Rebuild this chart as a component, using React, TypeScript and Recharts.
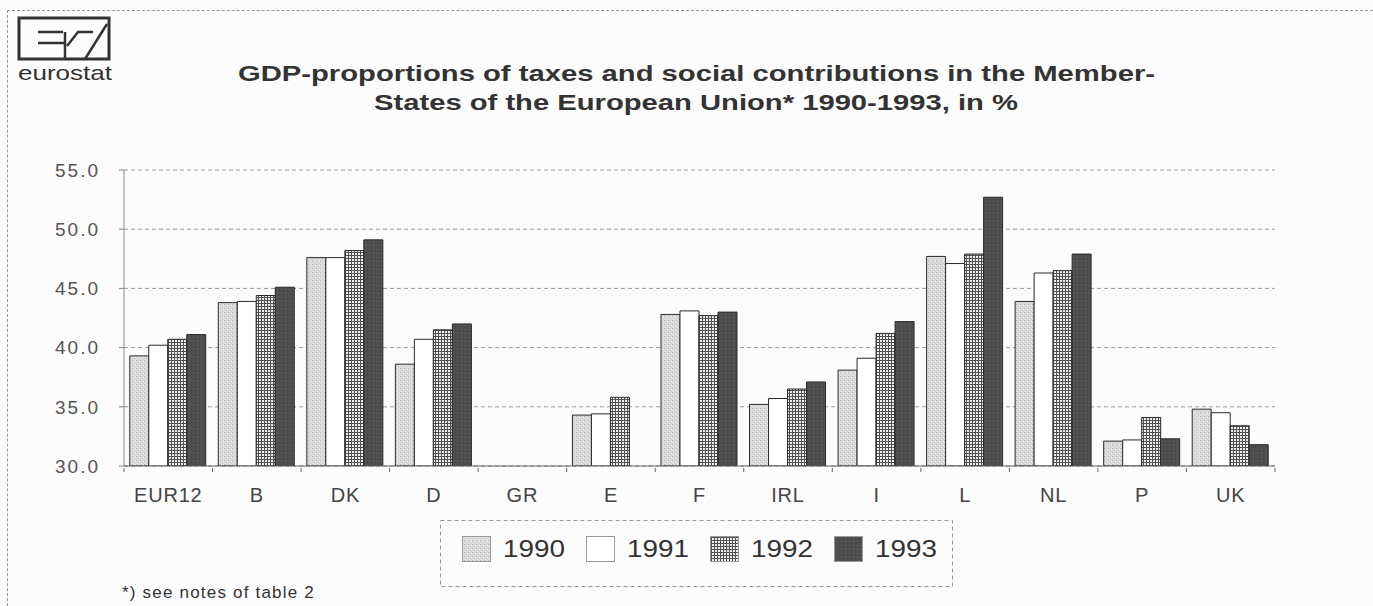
import React from "react";
import { Bar, BarChart, CartesianGrid, XAxis, YAxis } from "recharts";

const categories = ["EUR12", "B", "DK", "D", "GR", "E", "F", "IRL", "I", "L", "NL", "P", "UK"];
const years = ["1990", "1991", "1992", "1993"];
const v1990 = [39.3, 43.8, 47.6, 38.6, null, 34.3, 42.8, 35.2, 38.1, 47.7, 43.9, 32.1, 34.8];
const v1991 = [40.2, 43.9, 47.6, 40.7, null, 34.4, 43.1, 35.7, 39.1, 47.1, 46.3, 32.2, 34.5];
const v1992 = [40.7, 44.4, 48.2, 41.5, null, 35.8, 42.7, 36.5, 41.2, 47.9, 46.5, 34.1, 33.4];
const v1993 = [41.1, 45.1, 49.1, 42.0, null, null, 43.0, 37.1, 42.2, 52.7, 47.9, 32.3, 31.8];
const yTicks = [30, 35, 40, 45, 50, 55];

const data = categories.map((c, i) => ({
  name: c,
  "1990": v1990[i],
  "1991": v1991[i],
  "1992": v1992[i],
  "1993": v1993[i],
}));

const fills: Record<string, string> = {
  "1990": "url(#p1990)",
  "1991": "#ffffff",
  "1992": "url(#p1992)",
  "1993": "url(#p1993)",
};

const FONT = "'Liberation Sans', Arial, sans-serif";
const PLOT_LEFT = 124;
const PLOT_RIGHT = 1275;
const BAND = (PLOT_RIGHT - PLOT_LEFT) / categories.length;

function XTick(props: any) {
  const { x, y, payload, index } = props;
  return (
    <g>
      <line x1={x - BAND / 2} x2={x - BAND / 2} y1={y - 6} y2={y - 2} stroke="#666" />
      {index === categories.length - 1 && (
        <line x1={x + BAND / 2} x2={x + BAND / 2} y1={y - 6} y2={y - 2} stroke="#666" />
      )}
      <text x={x} y={y + 28} textAnchor="middle" fontSize={20} fill="#444" fontFamily={FONT} letterSpacing={0.8}>
        {payload.value}
      </text>
    </g>
  );
}

// title, logo, legend and footnote drawn over the chart
function Overlay() {
  const lx = [462, 586, 710, 834];
  return (
    <svg width={1373} height={606} style={{ position: "absolute", left: 0, top: 0, pointerEvents: "none" }}>
      {/* logo */}
      <g stroke="#333" fill="none">
        <rect x={19} y={18} width={90} height={41} strokeWidth={3} />
        <line x1={38} y1={32} x2={63} y2={32} strokeWidth={2.5} />
        <line x1={38} y1={43} x2={66} y2={43} strokeWidth={2.5} />
        <line x1={65} y1={32} x2={65} y2={59} strokeWidth={2.5} />
        <polyline points="67,46 78,32 93,32" strokeWidth={2.5} />
        <line x1={85} y1={59} x2={107} y2={24} strokeWidth={2.5} />
      </g>
      <text x={18} y={80} fontSize={21} fill="#333" fontFamily={FONT} textLength={94} lengthAdjust="spacingAndGlyphs">
        eurostat
      </text>

      {/* title */}
      <text x={238} y={81} fontSize={22} fontWeight="bold" fill="#333" fontFamily={FONT} textLength={917} lengthAdjust="spacingAndGlyphs">
        GDP-proportions of taxes and social contributions in the Member-
      </text>
      <text x={374} y={110} fontSize={22} fontWeight="bold" fill="#333" fontFamily={FONT} textLength={644} lengthAdjust="spacingAndGlyphs">
        States of the European Union* 1990-1993, in %
      </text>

      {/* legend */}
      <rect x={440.5} y={520.5} width={512} height={66} fill="none" stroke="#999" strokeDasharray="4 3" />
      {years.map((y, i) => (
        <g key={y}>
          <rect x={lx[i] + 0.5} y={536.5} width={28} height={25} fill={fills[y]} stroke="#999" />
          <text x={lx[i] + 41} y={557} fontSize={24} fill="#333" fontFamily={FONT} textLength={62} lengthAdjust="spacingAndGlyphs">
            {y}
          </text>
        </g>
      ))}

      {/* footnote */}
      <text x={122} y={598} fontSize={17} fill="#333" fontFamily={FONT} letterSpacing={1.2}>
        *) see notes of table 2
      </text>
    </svg>
  );
}

export default function App() {
  return (
    <div
      style={{
        position: "absolute",
        left: 0,
        top: 0,
        width: 1373,
        height: 606,
        background: "#fcfcfc",
        fontFamily: FONT,
        overflow: "hidden",
      }}
    >
      <div
        style={{
          position: "absolute",
          left: 7,
          top: 10,
          width: 1380,
          height: 610,
          borderTop: "1px dashed #999",
          borderLeft: "1px dashed #999",
        }}
      />

      <div style={{ position: "absolute", left: 0, top: 0 }}>
        <BarChart
          width={1373}
          height={606}
          data={data}
          margin={{ top: 170, right: 1373 - PLOT_RIGHT, bottom: 100, left: PLOT_LEFT - 100 }}
          barCategoryGap="6.5%"
          barGap={0}
        >
          <defs>
            <pattern id="p1990" width={4} height={4} patternUnits="userSpaceOnUse">
              <rect width={4} height={4} fill="#dcdcdc" />
              <rect x={0} y={0} width={1} height={1} fill="#b5b5b5" />
              <rect x={2} y={2} width={1} height={1} fill="#c4c4c4" />
              <rect x={3} y={1} width={1} height={1} fill="#ececec" />
            </pattern>
            <pattern id="p1992" width={3} height={3} patternUnits="userSpaceOnUse">
              <rect width={3} height={3} fill="#eeeeee" />
              <rect x={0} y={0} width={3} height={1} fill="#505050" />
              <rect x={0} y={0} width={1} height={3} fill="#505050" />
            </pattern>
            <pattern id="p1993" width={4} height={4} patternUnits="userSpaceOnUse">
              <rect width={4} height={4} fill="#4e4e4e" />
              <rect x={1} y={1} width={1} height={1} fill="#666" />
              <rect x={3} y={2} width={1} height={1} fill="#444" />
            </pattern>
          </defs>
          <CartesianGrid vertical={false} stroke="#9a9a9a" strokeDasharray="4 3" />
          <XAxis
            dataKey="name"
            height={40}
            tickLine={false}
            axisLine={{ stroke: "#666" }}
            tick={<XTick />}
            interval={0}
          />
          <YAxis
            width={100}
            domain={[30, 55]}
            ticks={yTicks}
            allowDataOverflow
            tickFormatter={(v: number) => v.toFixed(1)}
            tickSize={5}
            tickMargin={19}
            axisLine={{ stroke: "#888" }}
            tickLine={{ stroke: "#888" }}
            tick={{ fontSize: 19, fill: "#555", fontFamily: FONT, letterSpacing: 2 }}
          />
          {years.map((y) => (
            <Bar
              key={y}
              dataKey={y}
              fill={fills[y]}
              stroke="#2a2a2a"
              strokeWidth={1}
              isAnimationActive={false}
            />
          ))}
        </BarChart>
      </div>

      <Overlay />
    </div>
  );
}
